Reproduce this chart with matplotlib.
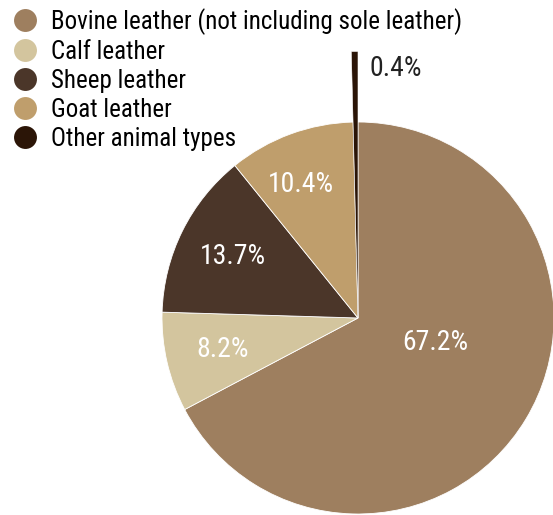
import numpy as np
import matplotlib
matplotlib.use("Agg")
import matplotlib.pyplot as plt
from matplotlib.lines import Line2D

labels = [
    "Bovine leather (not including sole leather)",
    "Calf leather",
    "Sheep leather",
    "Goat leather",
    "Other animal types",
]
shares = [67.2, 8.2, 13.7, 10.4, 0.4]
colors = ["#9e7f5f", "#d3c59e", "#4b3629", "#bf9e6c", "#2b1507"]

plt.rcParams['font.family'] = ['Roboto Condensed', 'Archivo Narrow', 'PT Sans Narrow',
                               'Liberation Sans Narrow', 'Roboto', 'DejaVu Sans']

W, H = 553, 515
fig = plt.figure(figsize=(W / 100, H / 100), dpi=100)
ax = fig.add_axes([0, 0, 1, 1])

cx, cy, R = 358, H - 318, 196

pct_iter = iter(shares)
wedges, texts, autotexts = ax.pie(
    shares,
    colors=colors,
    startangle=90,
    counterclock=False,
    center=(cx, cy),
    radius=R,
    autopct=lambda p: f"{next(pct_iter):.1f}%",
    pctdistance=0.71,
    wedgeprops=dict(edgecolor='white', linewidth=0.6),
    textprops=dict(color='white', fontsize=20),
)

# the tiny "other" slice sticks out beyond the pie
wedges[-1].set_radius(R * 1.36)
wedges[-1].set_linewidth(0.4)

# label tweaks to match the original placement
autotexts[0].set_position((cx + 77, cy - 25))
autotexts[3].set_position((cx - 57, cy + 133))
autotexts[-1].set_position((cx + 38, cy + 250))
autotexts[-1].set_color('#222222')

ax.set_xlim(0, W)
ax.set_ylim(0, H)
ax.set_aspect('equal')
ax.axis('off')

handles = [Line2D([], [], marker='o', linestyle='none', markersize=16.5,
                  markerfacecolor=c, markeredgecolor='none') for c in colors]
ax.legend(handles, labels, loc='upper left', bbox_to_anchor=(-0.008, 1.014),
          frameon=False, fontsize=18, handletextpad=0.45,
          labelspacing=0.2, borderaxespad=0.2, handlelength=1.15)

fig.savefig("out.png", dpi=100)
